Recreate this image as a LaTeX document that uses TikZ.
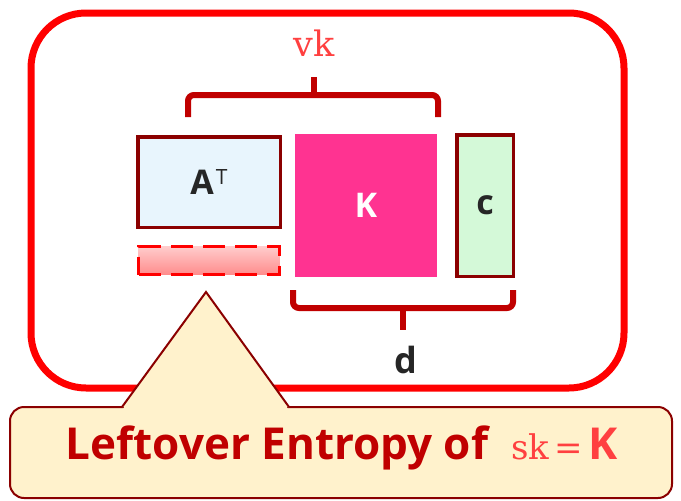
\documentclass[tikz,border=0pt]{standalone}
\usepackage{fontspec}
\setsansfont{Open Sans}
\newfontfamily\serifmath{DejaVu Serif}
\usetikzlibrary{positioning}
\definecolor{BoxRed}{RGB}{139,0,0}
\definecolor{BraceRed}{RGB}{192,0,0}
\definecolor{LightRed}{RGB}{255,64,64}
\definecolor{KeyPink}{RGB}{255,51,145}
\definecolor{TextGray}{RGB}{38,38,38}
\definecolor{IceBlue}{RGB}{232,245,253}
\definecolor{MintGreen}{RGB}{212,249,216}
\definecolor{Cream}{RGB}{255,242,204}
\begin{document}
\begin{tikzpicture}[x=1pt, y=-1pt,
    mat/.style={draw=BoxRed, line width=3.5pt, inner sep=0pt, text=TextGray,
      font=\sffamily\bfseries\fontsize{34}{34}\selectfont},
    brace/.style={draw=BraceRed, line width=6pt, rounded corners=6pt},
    callout/.style={draw=BoxRed, fill=Cream, line width=2pt}]
  \useasboundingbox (0,0) rectangle (681,501);
  \draw[red, line width=7pt, rounded corners=55pt] (31,13) rectangle (624,388);
  \node[mat, fill=IceBlue, minimum width=142.5pt, minimum height=90.5pt] (AT) at (209,182)
    {A\kern2pt\raisebox{10pt}{\mdseries\fontsize{21}{21}\selectfont T}};
  \node[draw=red, line width=3.5pt, dash pattern=on 22pt off 10pt, top color=red!20, bottom color=red!45,
    minimum width=141pt, minimum height=28pt, inner sep=0pt] (rest) at (209,260.5) {};
  \node[mat, draw=none, fill=KeyPink, text=white, minimum width=142pt, minimum height=143pt] (K) at (366,205.5) {K};
  \node[mat, fill=MintGreen, minimum width=56.5pt, minimum height=141.5pt] (c) at (485,205.5) {c};
  \draw[brace] (188,117) -- (188,95) -- (438,95) -- (438,117);
  \draw[draw=BraceRed, line width=6pt] (314,97) -- (314,77);
  \node[text=LightRed, font=\serifmath\fontsize{35}{35}\selectfont] (vk) at (314,43) {vk};
  \draw[brace] (293,290) -- (293,308) -- (513,308) -- (513,290);
  \draw[draw=BraceRed, line width=6pt] (403,306) -- (403,330);
  \node[text=TextGray, font=\sffamily\bfseries\fontsize{36}{36}\selectfont] (d) at (406,360) {d};
  \draw[callout, rounded corners=14pt] (10,407) rectangle (672,498);
  \fill[Cream] (123,409) -- (206,292) -- (288,409) -- cycle;
  \draw[callout] (122,407) -- (206,292) -- (289,407);
  \node[text=BraceRed, font=\sffamily\bfseries\fontsize{44}{44}\selectfont] (entropy) at (342,448)
    {Leftover Entropy of \ \textcolor{LightRed}{{\serifmath\mdseries\fontsize{34}{34}\selectfont sk\,=\,}K}};
\end{tikzpicture}
\end{document}
